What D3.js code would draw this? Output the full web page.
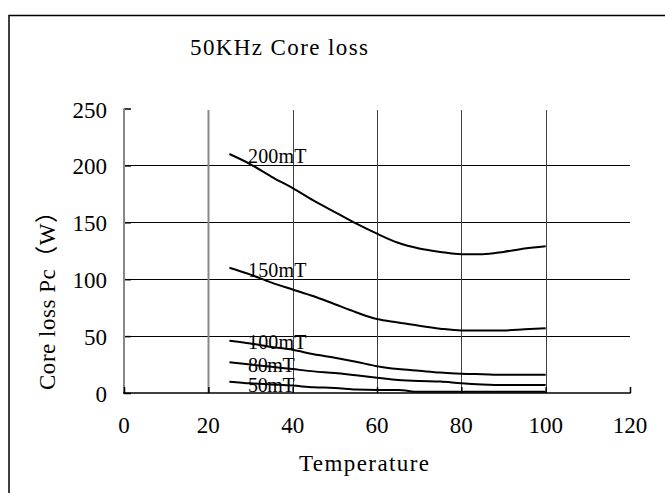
<!DOCTYPE html>
<html>
<head>
<meta charset="utf-8">
<script src="https://cdn.jsdelivr.net/npm/d3@7"></script>
<style>
    body { margin: 0; background: #ffffff; }
    svg { display: block; }
    text { font-family: "Liberation Serif", "Noto Sans CJK JP", serif; fill: #000000; }
</style>
</head>
<body>
<div id="chart"><svg></svg></div>
<script>

// Temperature (deg C) at which each curve was read
var temperatures = [25, 30, 35, 40, 45, 50, 55, 60, 65, 70, 75, 80, 85, 90, 95, 100];

// Core loss Pc (W) per flux density
var loss200mT = [210, 201, 190, 180, 169, 159, 149, 140, 132, 127, 124, 122, 122, 124, 127, 129];
var loss150mT = [110, 104, 97, 91, 85, 78, 71, 65, 62, 59, 56.5, 55, 55, 55, 56, 57];
var loss100mT = [46, 43.5, 40.5, 38, 34, 31, 27.5, 23.5, 21, 19.5, 18, 17, 16.5, 16, 16, 16];
var loss80mT = [27, 25, 23, 21, 19, 17.5, 15.5, 13.5, 11.5, 10.5, 10, 8.5, 7.5, 7, 7, 7];
var loss50mT = [10, 8.5, 7.5, 6.5, 5, 4.5, 3, 2.6, 2.6, 1, 1, 1, 1, 1, 1, 1];

var seriesNames = ["200mT", "150mT", "100mT", "80mT", "50mT"];
var seriesValues = [loss200mT, loss150mT, loss100mT, loss80mT, loss50mT];

var xTicks = [0, 20, 40, 60, 80, 100, 120];
var yTicks = [0, 50, 100, 150, 200, 250];

var titleText = "50KHz Core loss";
var xTitle = "Temperature";
var yTitle = "Core loss Pc\uFF08W\uFF09";

var options = {
    width: 665,
    height: 493,
    left: 124,
    right: 630,
    top: 108.5,
    bottom: 393,
    fontSize: 23,
    labelFontSize: 20
};

function drawChart(id, options)
{
    var svg = d3.select("#" + id + " > svg")
        .attr("width", options.width)
        .attr("height", options.height);

    var x = d3.scaleLinear().domain([0, 120]).range([options.left, options.right]);
    var y = d3.scaleLinear().domain([0, 250]).range([options.bottom, options.top]);

    // Outer frame (only top and left edges are inside the picture)
    svg.append("path")
        .attr("d", "M9,493 L9,15.5 L665,15.5")
        .attr("fill", "none")
        .attr("stroke", "black")
        .attr("stroke-width", 1.5);

    // Title
    svg.append("text")
        .attr("x", 190)
        .attr("y", 54.5)
        .attr("textLength", 178)
        .attr("lengthAdjust", "spacing")
        .style("font-size", options.fontSize + "px")
        .text(titleText);

    // Horizontal gridlines
    svg.append("g")
        .selectAll("line")
        .data(yTicks.filter(function(d) { return d > 0 && d < 250; }))
        .enter()
        .append("line")
        .attr("x1", x(0))
        .attr("x2", x(120))
        .attr("y1", function(d) { return Math.round(y(d)) + 0.5; })
        .attr("y2", function(d) { return Math.round(y(d)) + 0.5; })
        .attr("stroke", "black")
        .attr("stroke-width", 1);

    // Vertical gridlines
    svg.append("g")
        .selectAll("line")
        .data(xTicks.filter(function(d) { return d > 0 && d < 120; }))
        .enter()
        .append("line")
        .attr("x1", function(d) { return Math.round(x(d)) + 0.5; })
        .attr("x2", function(d) { return Math.round(x(d)) + 0.5; })
        .attr("y1", y(250) + 1.5)
        .attr("y2", y(0))
        .attr("stroke", function(d) { return d == 20 ? "#888888" : "#404040"; })
        .attr("stroke-width", function(d) { return d == 20 ? 2 : 1; });

    // Y axis
    var yAxis = d3.axisRight(y)
        .tickValues(yTicks)
        .tickSize(7)
        .tickFormat("");
    var yAxisG = svg.append("g")
        .attr("transform", "translate(" + x(0) + ",0)")
        .call(yAxis);
    yAxisG.select(".domain").remove();
    yAxisG.selectAll(".tick line").attr("stroke", "black").attr("stroke-width", 1.5);
    svg.append("line")
        .attr("x1", x(0))
        .attr("x2", x(0))
        .attr("y1", y(250))
        .attr("y2", y(0))
        .attr("stroke", "#888888")
        .attr("stroke-width", 2);

    // X axis
    var xAxis = d3.axisTop(x)
        .tickValues(xTicks)
        .tickSize(6)
        .tickFormat("");
    var xAxisG = svg.append("g")
        .attr("transform", "translate(0," + y(0) + ")")
        .call(xAxis);
    xAxisG.select(".domain").remove();
    xAxisG.selectAll(".tick line").attr("stroke", "black").attr("stroke-width", 1.5);
    svg.append("line")
        .attr("x1", x(0) - 1)
        .attr("x2", x(120) + 0.75)
        .attr("y1", y(0))
        .attr("y2", y(0))
        .attr("stroke", "black")
        .attr("stroke-width", 1.5);

    // Tick labels
    svg.append("g")
        .selectAll("text")
        .data(yTicks)
        .enter()
        .append("text")
        .attr("x", x(0) - 17)
        .attr("y", function(d) { return y(d) + 9; })
        .attr("text-anchor", "end")
        .style("font-size", options.fontSize + "px")
        .text(function(d) { return d; });

    svg.append("g")
        .selectAll("text")
        .data(xTicks)
        .enter()
        .append("text")
        .attr("x", function(d) { return x(d); })
        .attr("y", 433)
        .attr("text-anchor", "middle")
        .style("font-size", options.fontSize + "px")
        .text(function(d) { return d; });

    // Axis titles
    svg.append("text")
        .attr("x", 364)
        .attr("y", 471)
        .attr("text-anchor", "middle")
        .attr("textLength", 130)
        .attr("lengthAdjust", "spacing")
        .style("font-size", options.fontSize + "px")
        .text(xTitle);

    svg.append("text")
        .attr("transform", "translate(55,295) rotate(-90)")
        .attr("text-anchor", "middle")
        .attr("textLength", 190)
        .attr("lengthAdjust", "spacing")
        .style("font-size", options.fontSize + "px")
        .text(yTitle);

    // Curves
    var line = d3.line()
        .x(function(d, i) { return x(temperatures[i]); })
        .y(function(d) { return y(d); })
        .curve(d3.curveMonotoneX);

    for (var si = 0; si < seriesValues.length; si++)
    {
        svg.append("path")
            .attr("d", line(seriesValues[si]))
            .attr("fill", "none")
            .attr("stroke", "black")
            .attr("stroke-width", 2);
    }

    // Curve labels, sitting just over the start of each curve
    var labelDy = [-1, 2.5, 5.5, 7, 9];
    for (var si = 0; si < seriesNames.length; si++)
    {
        var name = seriesNames[si];
        svg.append("text")
            .attr("x", 248)
            .attr("y", y(seriesValues[si][1]) + labelDy[si])
            .attr("textLength", name.length * 11.7)
            .attr("lengthAdjust", "spacing")
            .style("font-size", options.labelFontSize + "px")
            .text(name);
    }
}

drawChart("chart", options);
</script>
</body>
</html>
